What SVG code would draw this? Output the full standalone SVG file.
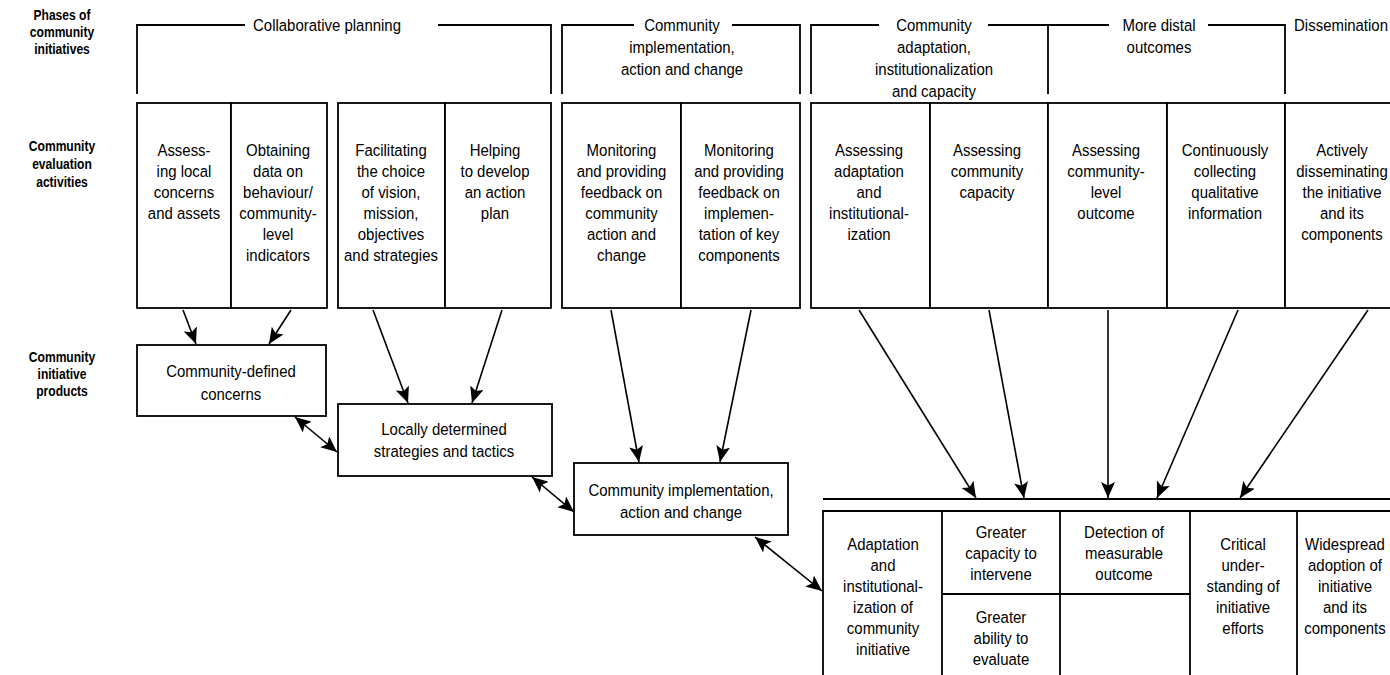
<svg xmlns="http://www.w3.org/2000/svg" width="1390" height="675" viewBox="0 0 1390 675">
<defs>
<style>
text{font-family:"Liberation Sans",Arial,sans-serif;font-size:17px;fill:#000;text-anchor:middle}
.lbl text{font-weight:bold;font-size:15.5px}
.box{fill:#fff;stroke:#000;stroke-width:1.8}
.ln{fill:none;stroke:#000;stroke-width:1.8}
.arr{fill:none;stroke:#000;stroke-width:1.6;marker-end:url(#ah)}
.dbl{fill:none;stroke:#000;stroke-width:1.6;marker-end:url(#ah);marker-start:url(#ahs)}
</style>
<marker id="ah" markerUnits="userSpaceOnUse" markerWidth="18" markerHeight="16" refX="16" refY="7" orient="auto">
<path d="M0,0 L16,7 L0,14 L3.5,7 Z" fill="#000"/>
</marker>
<marker id="ahs" markerUnits="userSpaceOnUse" markerWidth="18" markerHeight="16" refX="0" refY="7" orient="auto">
<path d="M16,0 L0,7 L16,14 L12.5,7 Z" fill="#000"/>
</marker>
</defs>
<rect width="1390" height="675" fill="#fff"/>

<g id="row-labels" class="lbl">
<g transform="translate(62,0) scale(0.78,1)">
<text x="0" y="20">Phases of</text>
<text x="0" y="37">community</text>
<text x="0" y="54">initiatives</text>
<text x="0" y="151">Community</text>
<text x="0" y="169">evaluation</text>
<text x="0" y="187">activities</text>
<text x="0" y="362">Community</text>
<text x="0" y="379">initiative</text>
<text x="0" y="396">products</text>
</g>
</g>

<g id="phase-collab">
<path class="ln" d="M137,94 V25 H245 M438,25 H551 V94"/>
<g transform="translate(327,0) scale(0.88,1)"><text x="0" y="31">Collaborative planning</text></g>
</g>
<g id="phase-implementation">
<path class="ln" d="M562,94 V25 H634 M732,25 H800 V94"/>
<g transform="translate(682,0) scale(0.88,1)">
<text x="0" y="31">Community</text>
<text x="0" y="53">implementation,</text>
<text x="0" y="75">action and change</text>
</g>
</g>
<g id="phase-adaptation">
<path class="ln" d="M811,94 V25 H879 M988,25 H1048"/>
<g transform="translate(934,0) scale(0.88,1)">
<text x="0" y="31">Community</text>
<text x="0" y="53">adaptation,</text>
<text x="0" y="75">institutionalization</text>
<text x="0" y="97">and capacity</text>
</g>
</g>
<g id="phase-distal">
<path class="ln" d="M1048,94 V25 H1109 M1208,25 H1285 V94"/>
<g transform="translate(1159,0) scale(0.88,1)">
<text x="0" y="31">More distal</text>
<text x="0" y="53">outcomes</text>
</g>
</g>
<g id="phase-dissemination">
<g transform="translate(1341,0) scale(0.88,1)"><text x="0" y="31">Dissemination</text></g>
</g>

<g id="act-1">
<rect class="box" x="137" y="103" width="94" height="205"/>
<g transform="translate(184,0) scale(0.88,1)"><text x="0" y="156">Assess-</text><text x="0" y="177">ing local</text><text x="0" y="198">concerns</text><text x="0" y="219">and assets</text></g>
</g>
<g id="act-2">
<rect class="box" x="231" y="103" width="96" height="205"/>
<g transform="translate(278,0) scale(0.88,1)"><text x="0" y="156">Obtaining</text><text x="0" y="177">data on</text><text x="0" y="198">behaviour/</text><text x="0" y="219">community-</text><text x="0" y="240">level</text><text x="0" y="261">indicators</text></g>
</g>
<g id="act-3">
<rect class="box" x="338" y="103" width="107" height="205"/>
<g transform="translate(391,0) scale(0.88,1)"><text x="0" y="156">Facilitating</text><text x="0" y="177">the choice</text><text x="0" y="198">of vision,</text><text x="0" y="219">mission,</text><text x="0" y="240">objectives</text><text x="0" y="261">and strategies</text></g>
</g>
<g id="act-4">
<rect class="box" x="445" y="103" width="106" height="205"/>
<g transform="translate(495,0) scale(0.88,1)"><text x="0" y="156">Helping</text><text x="0" y="177">to develop</text><text x="0" y="198">an action</text><text x="0" y="219">plan</text></g>
</g>
<g id="act-5">
<rect class="box" x="562" y="103" width="119" height="205"/>
<g transform="translate(621.5,0) scale(0.88,1)"><text x="0" y="156">Monitoring</text><text x="0" y="177">and providing</text><text x="0" y="198">feedback on</text><text x="0" y="219">community</text><text x="0" y="240">action and</text><text x="0" y="261">change</text></g>
</g>
<g id="act-6">
<rect class="box" x="681" y="103" width="119" height="205"/>
<g transform="translate(739,0) scale(0.88,1)"><text x="0" y="156">Monitoring</text><text x="0" y="177">and providing</text><text x="0" y="198">feedback on</text><text x="0" y="219">implemen-</text><text x="0" y="240">tation of key</text><text x="0" y="261">components</text></g>
</g>
<g id="act-7">
<rect class="box" x="811" y="103" width="119" height="205"/>
<g transform="translate(869,0) scale(0.88,1)"><text x="0" y="156">Assessing</text><text x="0" y="177">adaptation</text><text x="0" y="198">and</text><text x="0" y="219">institutional-</text><text x="0" y="240">ization</text></g>
</g>
<g id="act-8">
<rect class="box" x="930" y="103" width="118" height="205"/>
<g transform="translate(987,0) scale(0.88,1)"><text x="0" y="156">Assessing</text><text x="0" y="177">community</text><text x="0" y="198">capacity</text></g>
</g>
<g id="act-9">
<rect class="box" x="1048" y="103" width="119" height="205"/>
<g transform="translate(1106,0) scale(0.88,1)"><text x="0" y="156">Assessing</text><text x="0" y="177">community-</text><text x="0" y="198">level</text><text x="0" y="219">outcome</text></g>
</g>
<g id="act-10">
<rect class="box" x="1167" y="103" width="118" height="205"/>
<g transform="translate(1225,0) scale(0.88,1)"><text x="0" y="156">Continuously</text><text x="0" y="177">collecting</text><text x="0" y="198">qualitative</text><text x="0" y="219">information</text></g>
</g>
<g id="act-11">
<rect class="box" x="1285" y="103" width="125" height="205"/>
<g transform="translate(1342,0) scale(0.88,1)"><text x="0" y="156">Actively</text><text x="0" y="177">disseminating</text><text x="0" y="198">the initiative</text><text x="0" y="219">and its</text><text x="0" y="240">components</text></g>
</g>

<g id="prod-concerns">
<rect class="box" x="137" y="345" width="189" height="71"/>
<g transform="translate(231,0) scale(0.88,1)"><text x="0" y="377">Community-defined</text><text x="0" y="400">concerns</text></g>
</g>
<g id="prod-strategies">
<rect class="box" x="338" y="404" width="214" height="72"/>
<g transform="translate(444,0) scale(0.88,1)"><text x="0" y="435">Locally determined</text><text x="0" y="457">strategies and tactics</text></g>
</g>
<g id="prod-implementation">
<rect class="box" x="574" y="463" width="214" height="72"/>
<g transform="translate(681,0) scale(0.88,1)"><text x="0" y="496">Community implementation,</text><text x="0" y="518">action and change</text></g>
</g>

<g id="outcomes">
<path class="ln" d="M823,499 H1390"/>
<path class="ln" d="M823,680 V511 H1392 M942,511 V680 M1060,511 V680 M1190,511 V680 M1297,511 V680 M942,594 H1190"/>
<g transform="translate(883,0) scale(0.88,1)"><text x="0" y="550">Adaptation</text><text x="0" y="571">and</text><text x="0" y="592">institutional-</text><text x="0" y="613">ization of</text><text x="0" y="634">community</text><text x="0" y="655">initiative</text></g>
<g transform="translate(1001,0) scale(0.88,1)"><text x="0" y="538">Greater</text><text x="0" y="559">capacity to</text><text x="0" y="580">intervene</text><text x="0" y="623">Greater</text><text x="0" y="644">ability to</text><text x="0" y="665">evaluate</text></g>
<g transform="translate(1124,0) scale(0.88,1)"><text x="0" y="538">Detection of</text><text x="0" y="559">measurable</text><text x="0" y="580">outcome</text></g>
<g transform="translate(1243,0) scale(0.88,1)"><text x="0" y="550">Critical</text><text x="0" y="571">under-</text><text x="0" y="592">standing of</text><text x="0" y="613">initiative</text><text x="0" y="634">efforts</text></g>
<g transform="translate(1345,0) scale(0.88,1)"><text x="0" y="550">Widespread</text><text x="0" y="571">adoption of</text><text x="0" y="592">initiative</text><text x="0" y="613">and its</text><text x="0" y="634">components</text></g>
</g>

<g id="connectors">
<path class="arr" d="M183,310 L196,344"/>
<path class="arr" d="M291,310 L269,344"/>
<path class="arr" d="M373,310 L408,403"/>
<path class="arr" d="M502,310 L472,403"/>
<path class="arr" d="M611,310 L639,462"/>
<path class="arr" d="M751,310 L720,462"/>
<path class="arr" d="M859,310 L976,498"/>
<path class="arr" d="M989,310 L1024,498"/>
<path class="arr" d="M1108,310 L1108,498"/>
<path class="arr" d="M1238,310 L1157,498"/>
<path class="arr" d="M1368,310 L1240,498"/>
<path class="dbl" d="M295,417 L337,452"/>
<path class="dbl" d="M532,477 L574,512"/>
<path class="dbl" d="M755,537 L822,591"/>
</g>
</svg>
